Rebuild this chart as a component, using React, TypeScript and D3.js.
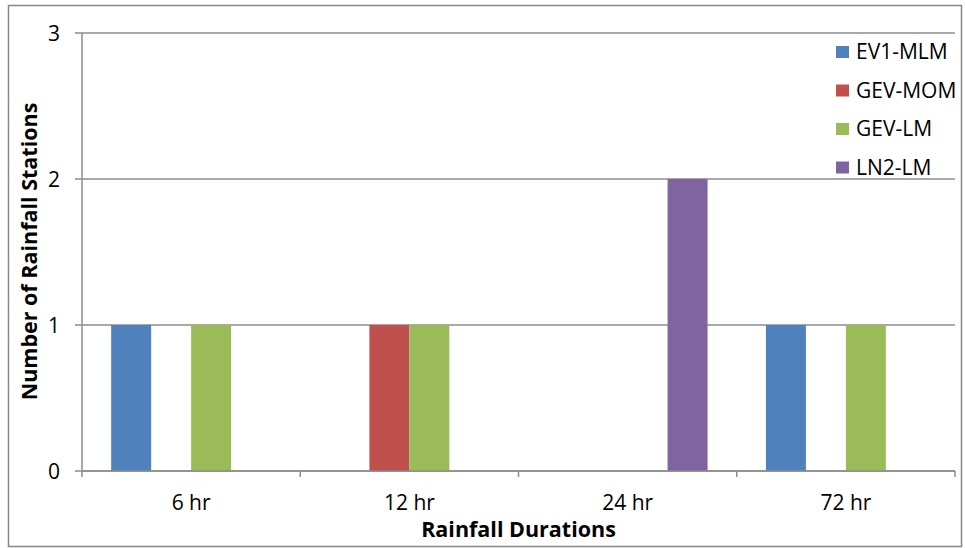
import React from "react";
import * as d3 from "d3";

const categories = ["6 hr", "12 hr", "24 hr", "72 hr"];
const seriesNames = ["EV1-MLM", "GEV-MOM", "GEV-LM", "LN2-LM"];
const seriesColors = ["#4F81BD", "#C0504D", "#9BBB59", "#8064A2"];
// counts per series, one entry per duration
const ev1Mlm = [1, 0, 0, 1];
const gevMom = [0, 1, 0, 0];
const gevLm = [1, 1, 0, 1];
const ln2Lm = [0, 0, 2, 0];
const yTicks = [0, 1, 2, 3];

const seriesValues = [ev1Mlm, gevMom, gevLm, ln2Lm];

const W = 965;
const H = 548;
const plot = { left: 82, right: 955, top: 33, bottom: 471 };
const font = "'Open Sans', Lato, sans-serif";
const gridColor = "#8c8c8c";

export default function App() {
  const x = d3
    .scaleBand<string>()
    .domain(categories)
    .range([plot.left, plot.right])
    .paddingInner(0)
    .paddingOuter(0);
  const inner = d3
    .scaleBand<string>()
    .domain(seriesNames)
    .range([0, x.bandwidth()])
    .paddingOuter(0.73)
    .paddingInner(0);
  const y = d3.scaleLinear().domain([0, 3]).range([plot.bottom, plot.top]);

  const boundaries = categories.map((c) => x(c) as number).concat([plot.right]);

  return (
    <svg width={W} height={H} style={{ display: "block", position: "absolute", left: 0, top: 0 }}>
      <rect x={0} y={0} width={W} height={H} fill="#fff" />
      <rect x={8.5} y={5.5} width={953} height={541} fill="#fff" stroke="#878787" strokeWidth={1.5} />

      {/* gridlines */}
      {yTicks.map((t) => (
        <line key={`g${t}`} x1={plot.left - 7} x2={plot.right} y1={y(t)} y2={y(t)} stroke={gridColor} strokeWidth={1.5} />
      ))}
      {/* y axis */}
      <line x1={plot.left} x2={plot.left} y1={plot.top} y2={plot.bottom} stroke={gridColor} strokeWidth={1.5} />
      {yTicks.map((t) => (
        <text key={`yl${t}`} x={60} y={y(t) + 7.5} textAnchor="end" fontFamily={font} fontSize={21} fill="#000">
          {t}
        </text>
      ))}

      {/* bars */}
      {seriesNames.map((s, si) =>
        categories.map((c, ci) => {
          const v = seriesValues[si][ci];
          if (!v) return null;
          return (
            <rect
              key={`${s}-${c}`}
              x={(x(c) as number) + (inner(s) as number)}
              y={y(v)}
              width={inner.bandwidth()}
              height={y(0) - y(v)}
              fill={seriesColors[si]}
            />
          );
        })
      )}

      {/* x axis baseline and ticks */}
      <line x1={plot.left} x2={plot.right} y1={plot.bottom} y2={plot.bottom} stroke={gridColor} strokeWidth={1.5} />
      {boundaries.map((b, i) => (
        <line key={`xt${i}`} x1={b} x2={b} y1={plot.bottom} y2={plot.bottom + 6} stroke={gridColor} strokeWidth={1.5} />
      ))}
      {categories.map((c) => (
        <text
          key={`xl${c}`}
          x={(x(c) as number) + x.bandwidth() / 2}
          y={510}
          textAnchor="middle"
          fontFamily={font}
          fontSize={21}
          fill="#000"
        >
          {c}
        </text>
      ))}

      {/* axis titles */}
      <text x={(plot.left + plot.right) / 2} y={537} textAnchor="middle" fontFamily={font} fontSize={21.5} fontWeight="bold" fill="#000">
        Rainfall Durations
      </text>
      <text
        transform={`translate(37, 251.5) rotate(-90)`}
        textAnchor="middle"
        fontFamily={font}
        fontSize={21.5}
        fontWeight="bold"
        fill="#000"
      >
        Number of Rainfall Stations
      </text>

      {/* legend */}
      {seriesNames.map((s, i) => {
        const cy = 52 + i * 38.5;
        return (
          <g key={`lg${s}`}>
            <rect x={836} y={cy - 6} width={13} height={12} fill={seriesColors[i]} />
            <text x={856} y={cy + 7} fontFamily={font} fontSize={21} fill="#000">
              {s}
            </text>
          </g>
        );
      })}
    </svg>
  );
}
